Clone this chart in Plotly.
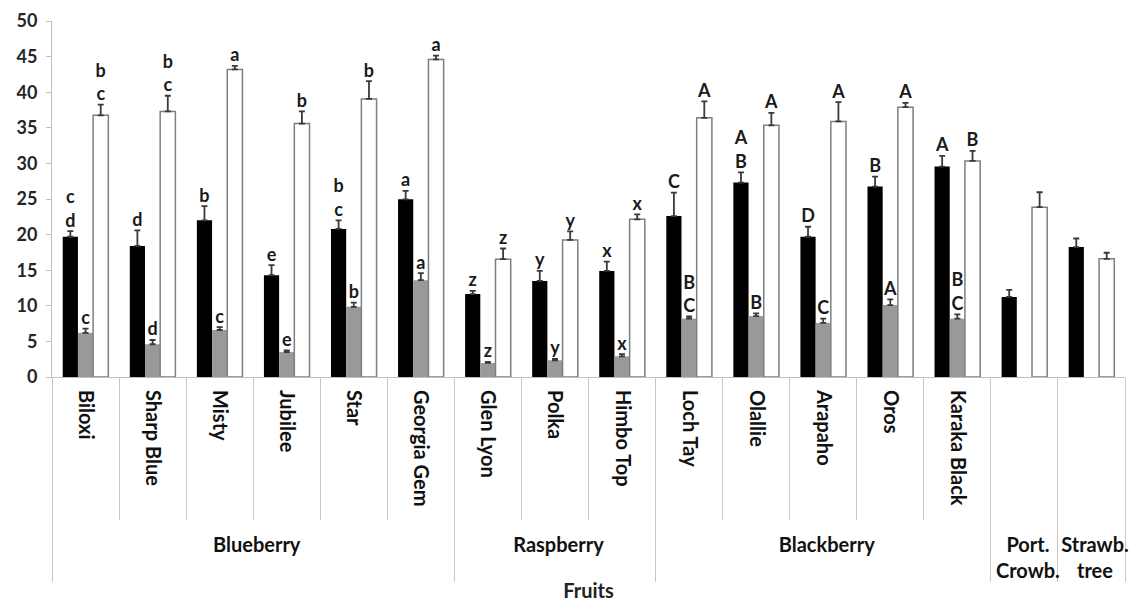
import plotly.graph_objects as go

groups = ["Blueberry"] * 6 + ["Raspberry"] * 3 + ["Blackberry"] * 5 + ["Port.<br>Crowb.", "Strawb.<br>tree"]
cultivars = ["Biloxi", "Sharp Blue", "Misty", "Jubilee", "Star", "Georgia Gem\u00a0\u00a0\u00a0",
             "Glen Lyon", "Polka", "Himbo Top",
             "Loch Tay", "Olallie", "Arapaho", "Oros", "Karaka Black", " ", "  "]

black = [19.7, 18.4, 22.0, 14.3, 20.8, 24.95, 11.65, 13.5, 14.9, 22.6, 27.3, 19.7, 26.75, 29.55, 11.25, 18.25]
black_err = [0.8, 2.2, 2.0, 1.4, 1.2, 1.2, 0.45, 1.4, 1.3, 3.3, 1.45, 1.4, 1.4, 1.5, 1.0, 1.2]
gray = [6.2, 4.6, 6.6, 3.5, 9.85, 13.6, 1.97, 2.35, 2.9, 8.2, 8.55, 7.6, 10.1, 8.2, None, None]
gray_err = [0.6, 0.6, 0.4, 0.25, 0.6, 1.0, 0.15, 0.2, 0.3, 0.3, 0.4, 0.6, 0.8, 0.6, None, None]
white = [36.75, 37.3, 43.2, 35.6, 39.05, 44.6, 16.55, 19.25, 22.15, 36.4, 35.35, 35.9, 37.9, 30.35, 23.85, 16.6]
white_err = [1.5, 2.2, 0.5, 1.7, 2.5, 0.55, 1.5, 1.2, 0.7, 2.3, 1.75, 2.7, 0.6, 1.4, 2.1, 0.85]

black_lbl = ["c<br>d", "d", "b", "e", "b<br>c", "a", "z", "y", "x", "C", "A<br>B", "D", "B", "A", "", ""]
gray_lbl = ["c", "d", "c", "e", "b", "a", "z", "y", "x", "B<br>C", "B", "C", "A", "B<br>C", "", ""]
white_lbl = ["b<br>c", "b<br>c", "a", "b", "b", "a", "z", "y", "x", "A", "A", "A", "A", "B", "", ""]

FONT = "Lato"
x = [groups, cultivars]

series = [
    ("black", black, black_err, black_lbl, "#000000", "#000000", 0),
    ("gray", gray, gray_err, gray_lbl, "#999999", "#999999", 0),
    ("white", white, white_err, white_lbl, "#ffffff", "#7f7f7f", 1.5),
]

fig = go.Figure()
for name, vals, errs, lbls, fill, line, lw in series:
    fig.add_trace(go.Bar(
        x=x, y=vals, name=name, offsetgroup=name, alignmentgroup="g",
        marker=dict(color=fill, line=dict(color=line, width=lw)),
        error_y=dict(type="data", array=errs, arrayminus=[0] * len(errs), symmetric=False,
                     color="#3a3a3a", thickness=1.8, width=3),
        showlegend=False,
    ))
for name, vals, errs, lbls, fill, line, lw in series:
    tops = [None if v is None else v + e for v, e in zip(vals, errs)]
    fig.add_trace(go.Scatter(
        x=x, y=tops, mode="text", text=lbls, textposition="top center",
        offsetgroup=name, alignmentgroup="g",
        textfont=dict(family=FONT, size=18, color="#1a1a1a", weight="bold"),
        showlegend=False, cliponaxis=False,
    ))

fig.update_layout(
    width=1129, height=602,
    margin=dict(l=52, r=4, t=21, b=225),
    paper_bgcolor="white", plot_bgcolor="white",
    barmode="group", bargap=0.32, bargroupgap=0,
    scattermode="group", scattergap=0.32,
    font=dict(family=FONT, color="#222222"),
)
fig.update_yaxes(
    range=[0, 50], dtick=5, showgrid=False, zeroline=False, automargin=False,
    showline=True, linecolor="#bfbfbf", linewidth=1,
    ticks="outside", ticklen=5, tickcolor="#bfbfbf",
    ticklabelstandoff=5,
    tickfont=dict(family=FONT, size=18, color="#262626", weight="bold"),
)
fig.update_xaxes(
    type="multicategory", showgrid=False, zeroline=False, automargin=False,
    showline=True, linecolor="#bfbfbf", linewidth=1,
    ticks="outside", tickson="boundaries", ticklen=142, tickcolor="#c8c8c8",
    tickangle=90, ticklabelstandoff=8,
    showdividers=True, dividercolor="#c8c8c8", dividerwidth=1,
    tickfont=dict(family=FONT, size=20, color="#111111", weight="bold"),
    title=dict(text="Fruits", font=dict(family=FONT, size=20, color="#222222", weight="bold"), standoff=3),
)

fig.write_html("out.html", config={"displayModeBar": False},
               post_script="document.body.style.margin='0px';document.body.style.overflow='hidden';")
